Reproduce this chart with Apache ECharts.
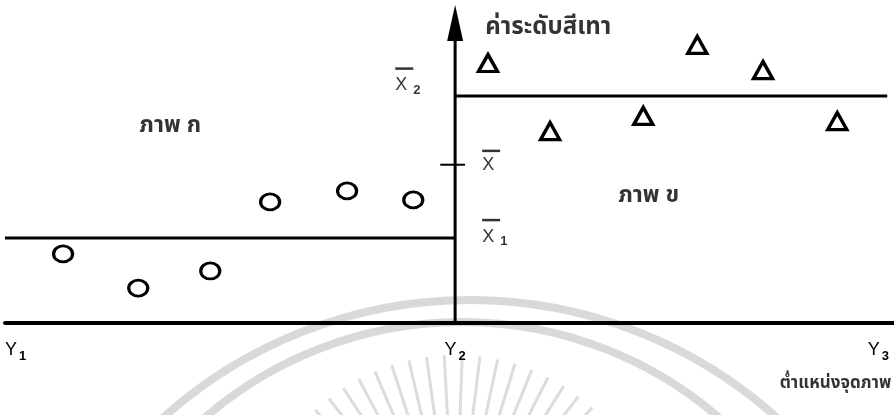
<!DOCTYPE html>
<html>
<head>
<meta charset="utf-8">
<script src="https://cdn.jsdelivr.net/npm/echarts@6/dist/echarts.min.js"></script>
<style>
  html, body { margin: 0; background: #fff; }
  #chart { width: 894px; height: 415px; }
</style>
</head>
<body>
<div id="chart"></div>
<script>
// x: pixel position (Y1 = 0, Y2 = 10), y: grey level
const boundaries = [0, 10, 19.6];          // Y1, Y2, right end of region ข
const tickValues = [0, 10, 19.4];
const tickSubs = ['1', '2', '3'];
const regionA = [[1.29, 21.4], [2.96, 10.8], [4.56, 16.1], [5.89, 37.5], [7.6, 40.9], [9.07, 38.1]];
const regionB = [[10.73, 80.5], [12.11, 59.4], [14.18, 64.1], [15.38, 86.1], [16.84, 78.3], [18.49, 62.5]];
const meanValues = [26.3, 49, 70.3];       // X̄1, X̄, X̄2
const meanSubs = ['1', '', '2'];
const meanLabelPos = [[10.8, 28.3], [10.8, 50.5], [8.87, 75.2]];
const noteTexts = ['ค่าระดับสีเทา', 'ภาพ ก', 'ภาพ ข', 'ต่ำแหน่งจุดภาพ'];
const notePos = [[12.07, 90.9], [3.67, 60.6], [14.3, 38.9], [18.45, -19]];
const axisTop = 92.9;

const chart = echarts.init(document.getElementById('chart'));
const thaiFont = '"Noto Sans Thai", Loma, Garuda, "Tlwg Typist", sans-serif';
const latinFont = '"Liberation Sans", Arial, sans-serif';
const ink = '#000';
const noteSizes = [24, 23, 23, 17];

// faint seal watermark behind the drawing
const rays = [];
for (let a = -58; a <= 58; a += 5) {
  const t = a * Math.PI / 180;
  const cx = 455, cy = 560;
  rays.push({
    type: 'line', z: -10, silent: true,
    shape: {
      x1: cx + Math.sin(t) * 205, y1: cy - Math.cos(t) * 205,
      x2: cx + Math.sin(t) * 140, y2: cy - Math.cos(t) * 140
    },
    style: { stroke: '#dcdcdc', lineWidth: 3 }
  });
}

const option = {
  backgroundColor: '#fff',
  animation: false,
  grid: { left: 5, right: 0, top: 0, bottom: 92 },
  xAxis: {
    type: 'value', min: 0, max: 19.75,
    splitLine: { show: false },
    axisTick: { show: false },
    axisLine: { lineStyle: { color: ink, width: 4 } },
    axisLabel: {
      customValues: tickValues,
      alignMinLabel: 'left',
      margin: 15,
      color: ink,
      fontFamily: latinFont,
      fontSize: 18,
      formatter: v => 'Y{s|' + tickSubs[tickValues.indexOf(v)] + '}',
      rich: { s: { fontSize: 13, fontFamily: latinFont, fontWeight: 'bold', color: ink, padding: [12, 0, 0, 2] } }
    }
  },
  yAxis: { type: 'value', min: 0, max: 100, show: false },
  graphic: [
    { type: 'arc', z: -10, silent: true, shape: { cx: 470, cy: 759, r: 459 }, style: { stroke: '#d9d9d9', fill: null, lineWidth: 8 } },
    { type: 'arc', z: -10, silent: true, shape: { cx: 462, cy: 715, r: 393 }, style: { stroke: '#d9d9d9', fill: null, lineWidth: 8 } }
  ].concat(rays),
  series: [
    {
      type: 'line', symbol: 'none', silent: true,
      lineStyle: { color: ink, width: 3 },
      data: [[boundaries[0], meanValues[0]], [boundaries[1], meanValues[0]]]
    },
    {
      type: 'line', symbol: 'none', silent: true,
      lineStyle: { color: ink, width: 3 },
      data: [[boundaries[1], meanValues[2]], [boundaries[2], meanValues[2]]]
    },
    {
      type: 'line', symbol: 'none', silent: true,
      lineStyle: { color: ink, width: 2 },
      data: [[boundaries[1] - 0.33, meanValues[1]], [boundaries[1] + 0.22, meanValues[1]]]
    },
    {
      type: 'line', silent: true, clip: false,
      lineStyle: { color: ink, width: 3 },
      itemStyle: { color: ink },
      data: [
        { value: [boundaries[1], 0], symbol: 'none' },
        { value: [boundaries[1], axisTop], symbol: 'triangle', symbolSize: [16, 36] }
      ]
    },
    {
      type: 'scatter', symbol: 'circle', symbolSize: [19, 16], silent: true,
      itemStyle: { color: '#fff', borderColor: ink, borderWidth: 3, opacity: 1 },
      data: regionA
    },
    {
      type: 'scatter', symbol: 'triangle', symbolSize: [19, 17], silent: true,
      itemStyle: { color: '#fff', borderColor: ink, borderWidth: 3.4, opacity: 1 },
      data: regionB
    },
    {
      type: 'scatter', symbolSize: 0, silent: true, clip: false,
      label: {
        show: true, position: 'inside', color: ink,
        fontFamily: thaiFont, fontWeight: 'bold',
        formatter: p => noteTexts[p.dataIndex]
      },
      data: notePos.map((v, i) => ({ value: v, label: { fontSize: noteSizes[i] } }))
    },
    {
      type: 'scatter', symbolSize: 0, silent: true, clip: false,
      label: {
        show: true, position: 'inside', color: ink, align: 'left',
        offset: [-9, 0],
        fontFamily: latinFont, fontSize: 18,
        formatter: p => '{bar|}\n{x|X}' + (meanSubs[p.dataIndex] ? '{s|' + meanSubs[p.dataIndex] + '}' : ''),
        rich: {
          bar: { width: 18, height: 2.5, backgroundColor: ink, lineHeight: 10 },
          x: { fontFamily: latinFont, fontSize: 18, color: ink, lineHeight: 18 },
          s: { fontFamily: latinFont, fontSize: 13, fontWeight: 'bold', color: ink, padding: [10, 0, 0, 6] }
        }
      },
      data: meanLabelPos
    }
  ]
};
chart.setOption(option);
</script>
</body>
</html>
